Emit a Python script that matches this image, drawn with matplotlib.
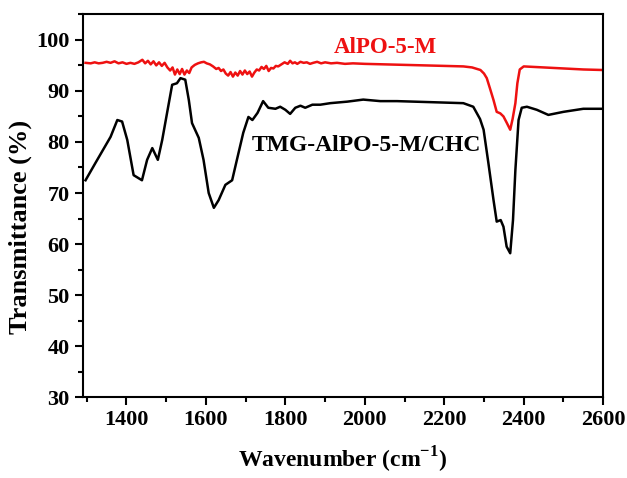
import matplotlib
matplotlib.use("Agg")
import matplotlib.pyplot as plt
from matplotlib.ticker import MultipleLocator

plt.rcParams['font.family'] = ['Liberation Serif', 'DejaVu Serif']
plt.rcParams['font.weight'] = 'bold'
plt.rcParams['mathtext.fontset'] = 'custom'
plt.rcParams['mathtext.rm'] = 'Liberation Serif:bold'
plt.rcParams['mathtext.bf'] = 'Liberation Serif:bold'

# TMG-AlPO-5-M/CHC (black)
wn_black = [1297, 1322, 1360, 1377, 1389, 1402, 1418, 1439, 1452, 1465, 1479, 1490,
            1502, 1515, 1527, 1536, 1548, 1557, 1565, 1582, 1594, 1607, 1620, 1632,
            1649, 1666, 1678, 1694, 1707, 1717, 1730, 1744, 1757, 1775, 1787, 1800,
            1812, 1825, 1838, 1850, 1868, 1888, 1913, 1956, 1996, 2039, 2081, 2165,
            2248, 2273, 2290, 2299, 2311,
            2324, 2332, 2342, 2349, 2357, 2366, 2373, 2379, 2387, 2395, 2408, 2433,
            2462, 2500, 2550, 2597]
t_black = [72.5, 75.9, 81.0, 84.3, 84.0, 80.4, 73.5, 72.5, 76.5, 78.8, 76.5, 80.4,
           85.6, 91.2, 91.5, 92.5, 92.2, 88.2, 83.7, 80.8, 76.5, 70.0, 67.1, 68.6,
           71.6, 72.5, 76.5, 81.8, 84.9, 84.3, 85.7, 88.0, 86.7, 86.5, 86.9, 86.3,
           85.5, 86.7, 87.1, 86.7, 87.3, 87.3, 87.6, 87.9, 88.3, 88.0, 88.0, 87.8,
           87.6, 86.9, 84.5, 82.4, 75.9,
           68.6, 64.4, 64.7, 63.4, 59.5, 58.2, 64.7, 74.5, 84.3, 86.7, 86.9, 86.3,
           85.3, 85.9, 86.5, 86.5]

# AlPO-5-M (red)
wn_red = [1297, 1310, 1320, 1330, 1340, 1350, 1360, 1370, 1380, 1390, 1400, 1410,
          1420, 1430, 1440, 1447, 1454, 1461, 1468, 1475, 1482, 1489, 1496, 1503,
          1510, 1516, 1522, 1528, 1534, 1540, 1546, 1552, 1558, 1564, 1572, 1580,
          1588, 1595, 1602, 1610, 1618, 1626, 1632, 1638, 1644, 1650, 1656, 1662,
          1668, 1674, 1680, 1686, 1692, 1698, 1704, 1710, 1716, 1722, 1728, 1734,
          1740, 1746, 1752, 1758, 1764, 1770, 1776, 1782, 1790, 1798, 1806, 1812,
          1818, 1824, 1830, 1838, 1846, 1854, 1862, 1870, 1880, 1890, 1900, 1915,
          1930, 1950, 1970, 2000, 2050, 2100, 2150, 2200, 2248, 2270, 2291, 2300,
          2307, 2315, 2324, 2332, 2341, 2349, 2357, 2366, 2372, 2379, 2384, 2390,
          2400, 2450, 2500, 2550, 2597]
t_red = [95.5, 95.4, 95.6, 95.4, 95.5, 95.7, 95.5, 95.8, 95.4, 95.6, 95.3, 95.5,
         95.3, 95.6, 96.1, 95.4, 95.9, 95.2, 95.8, 95.0, 95.6, 94.9, 95.5, 94.6,
         94.0, 94.6, 93.2, 94.2, 93.3, 94.3, 93.2, 94.0, 93.5, 94.6, 95.1, 95.4,
         95.6, 95.7, 95.4, 95.2, 94.8, 94.3, 94.5, 93.9, 94.2, 93.4, 93.0, 93.7,
         92.8, 93.6, 93.0, 93.9, 93.2, 94.0, 93.3, 93.8, 92.8, 93.6, 94.2, 94.0,
         94.7, 94.3, 94.9, 93.9, 94.5, 94.4, 94.9, 94.8, 95.2, 95.6, 95.3, 95.9,
         95.4, 95.6, 95.3, 95.7, 95.5, 95.6, 95.3, 95.5, 95.7, 95.4, 95.6, 95.4,
         95.5, 95.3, 95.4, 95.3, 95.2, 95.1, 95.0, 94.9, 94.8, 94.6, 94.1, 93.4,
         92.5, 90.5, 88.2, 85.9, 85.6, 85.0, 83.8, 82.4, 84.5, 87.6, 91.5, 94.2,
         94.8, 94.6, 94.4, 94.2, 94.1]

x_ticks = [1400, 1600, 1800, 2000, 2200, 2400, 2600]
y_ticks = [30, 40, 50, 60, 70, 80, 90, 100]

fig = plt.figure(figsize=(6.27, 4.78), dpi=100)
ax = fig.add_axes([0.132, 0.169, 0.830, 0.801])

ax.plot(wn_black, t_black, color='black', lw=1.8)
ax.plot(wn_red, t_red, color='#ee1111', lw=1.8)

ax.set_xlim(1290, 2600)
ax.set_ylim(30, 105)
ax.set_xticks(x_ticks)
ax.set_yticks(y_ticks)
ax.xaxis.set_minor_locator(MultipleLocator(100))
ax.yaxis.set_minor_locator(MultipleLocator(5))
ax.tick_params(which='major', direction='out', length=6, width=1.5, labelsize=16)
ax.tick_params(which='minor', direction='out', length=3.5, width=1.5)
for lbl in ax.get_xticklabels() + ax.get_yticklabels():
    lbl.set_fontweight('bold')
for s in ax.spines.values():
    s.set_linewidth(1.5)

ax.set_xlabel(r'Wavenumber (cm$^{-1}$)', fontsize=17, fontweight='bold', labelpad=10)
ax.set_ylabel('Transmittance (%)', fontsize=19, fontweight='bold')
ax.yaxis.set_label_coords(-0.098, 0.444)

ax.text(2052, 98.6, 'AlPO-5-M', color='#ee1111', fontsize=16.5, fontweight='bold',
        ha='center', va='center')
ax.text(2003, 79.4, 'TMG-AlPO-5-M/CHC', color='black', fontsize=17, fontweight='bold',
        ha='center', va='center')

fig.savefig('out.png', dpi=100)
